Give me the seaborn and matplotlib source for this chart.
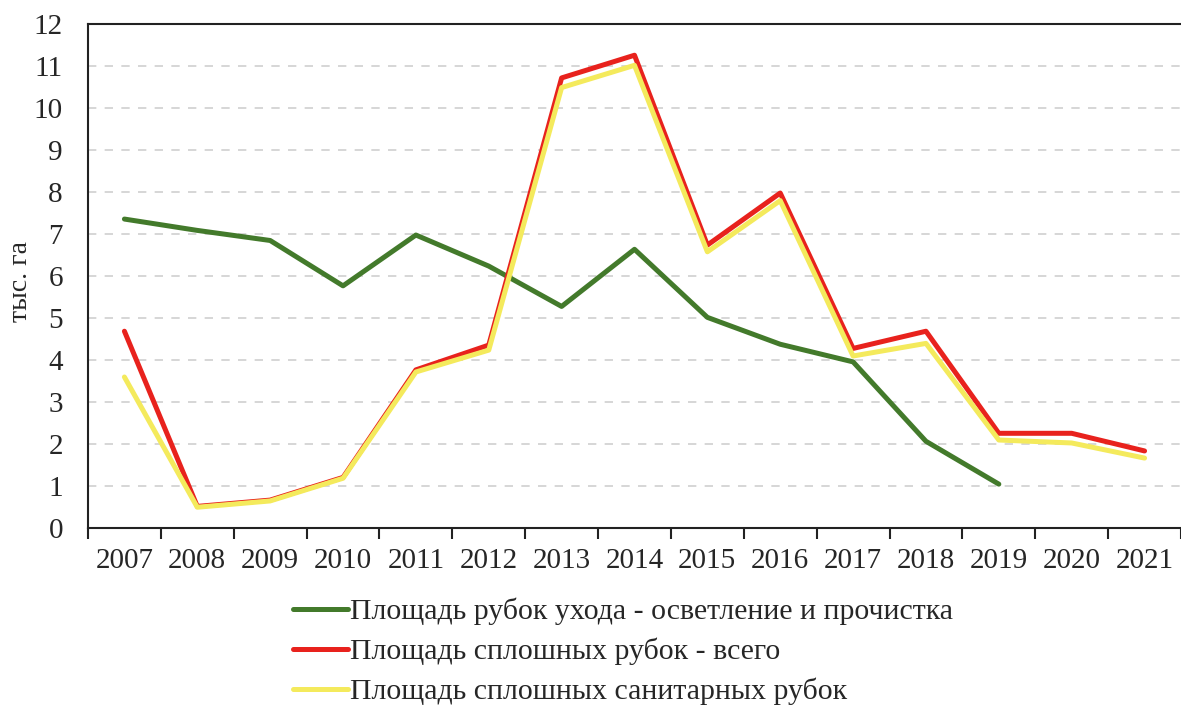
import numpy as np
import pandas as pd
import matplotlib
matplotlib.use("Agg")
import matplotlib.pyplot as plt
import seaborn as sns

years = list(range(2007, 2022))
thinning = [7.36, 7.09, 6.85, 5.77, 6.98, 6.24, 5.28, 6.64, 5.02, 4.38, 3.96, 2.07, 1.05, np.nan, np.nan]
clear_total = [4.69, 0.52, 0.67, 1.21, 3.77, 4.36, 10.72, 11.26, 6.74, 7.98, 4.28, 4.69, 2.26, 2.26, 1.84]
clear_sanitary = [3.6, 0.5, 0.65, 1.19, 3.72, 4.24, 10.49, 11.02, 6.58, 7.8, 4.1, 4.4, 2.1, 2.03, 1.67]

names = [
    "Площадь рубок ухода - осветление и прочистка",
    "Площадь сплошных рубок - всего",
    "Площадь сплошных санитарных рубок",
]
colors = ["#437a2b", "#e8221d", "#f4ea5c"]

df = pd.DataFrame({
    "year": years * 3,
    "value": thinning + clear_total + clear_sanitary,
    "series": [names[0]] * 15 + [names[1]] * 15 + [names[2]] * 15,
})

sns.set_style("white")
plt.rcParams["font.family"] = ["Liberation Serif", "DejaVu Serif"]

fig = plt.figure(figsize=(11.81, 7.10), dpi=100)
ax = fig.add_axes([0.0745, 0.256, 0.9255, 0.71])

sns.lineplot(data=df, x="year", y="value", hue="series", hue_order=names,
             palette=colors, linewidth=3.6, ax=ax, legend=True)

ax.set_xlim(2006.5, 2021.5)
ax.set_ylim(0, 12)
ax.set_yticks(range(0, 13))
ax.tick_params(axis="y", length=0, labelsize=21, pad=18)
for y in range(1, 12):
    ax.axhline(y, color="#d0d0d0", lw=1.2, ls=(0, (5, 5)), zorder=0)

# category-style x axis: ticks between years, labels centred
ax.set_xticks(np.arange(2006.5, 2022, 1))
ax.set_xticklabels([])
ax.set_xticks(years, minor=True)
ax.set_xticklabels([str(y) for y in years], minor=True)
ax.tick_params(axis="x", which="major", length=8, width=1.5, direction="out", color="#222222", bottom=True)
ax.tick_params(axis="x", which="minor", length=0, labelsize=21, pad=14)

for s in ["left", "bottom", "top"]:
    ax.spines[s].set_color("#222222")
    ax.spines[s].set_linewidth(1.5)
ax.spines["right"].set_visible(False)

ax.set_xlabel("")
ax.set_ylabel("тыс. га", fontsize=20)
ax.yaxis.set_label_coords(-0.05, 0.49)

ax.get_legend().remove()
handles, labels = ax.get_legend_handles_labels()
fig.legend(handles, labels, loc="upper left", bbox_to_anchor=(0.248, 0.158),
           frameon=False, fontsize=21.5, handlelength=1.85, handletextpad=0.05,
           labelspacing=0.42, borderpad=0, borderaxespad=0)

fig.savefig("out.png", dpi=100)
